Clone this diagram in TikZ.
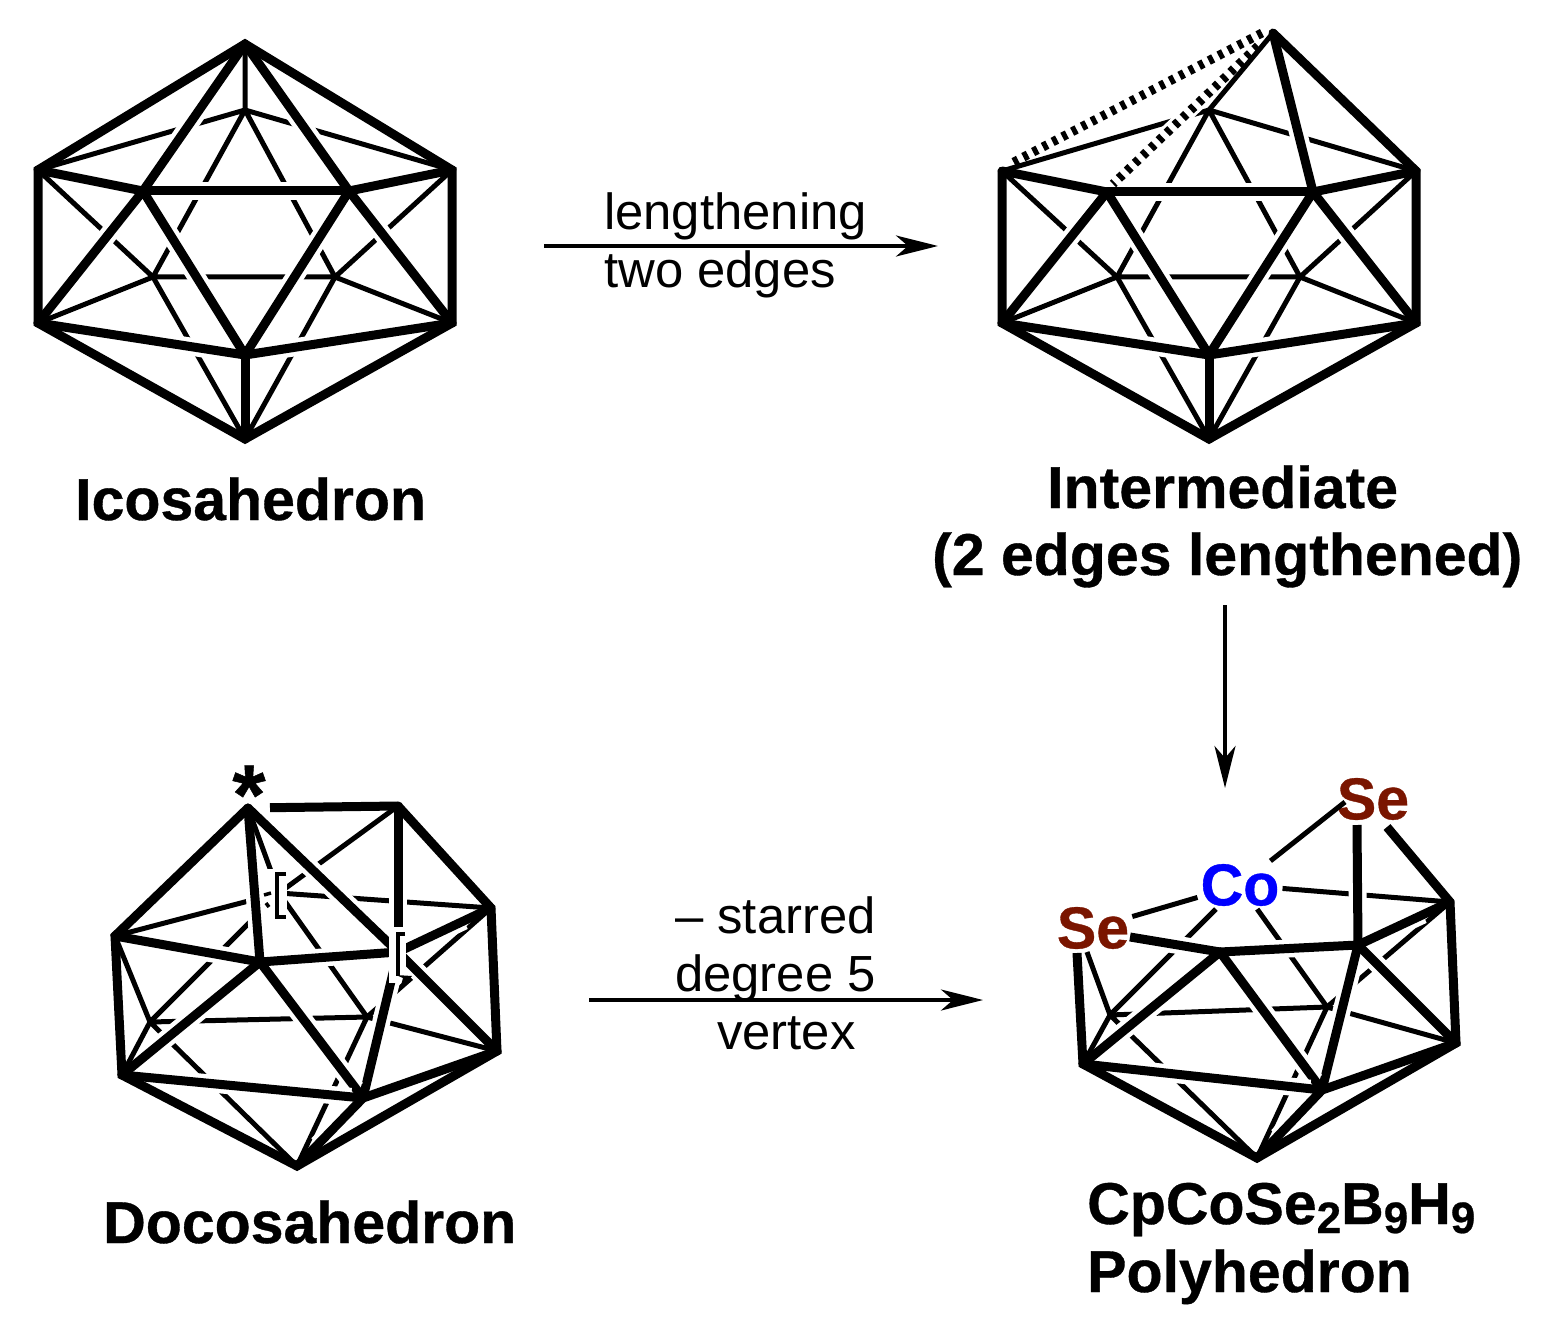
\documentclass[tikz,border=0pt]{standalone}
\usepackage{xcolor}
\usepackage{fontspec}
\setmainfont[BoldFeatures={FakeBold=0.6}]{Liberation Sans}
\usetikzlibrary{arrows.meta,positioning,calc}
\definecolor{seleniumred}{HTML}{7A1500}
\definecolor{cobaltblue}{HTML}{0000FF}
\newcommand{\lab}{\fontsize{59}{59}\selectfont\bfseries}
\newcommand{\sub}[1]{\raisebox{-9pt}{\fontsize{44}{44}\selectfont #1}}
\tikzset{
  outline/.style={line width=9pt,line join=miter,miter limit=10},
  front/.style n args={2}{line width=9pt,line cap=round,
    preaction={draw=white,line width=18pt,line cap=butt,shorten <=#1,shorten >=#2}},
  front/.default={30pt}{30pt},
  back/.style={line width=5pt},
  hashed/.style={line width=9pt,dash pattern=on 5pt off 6pt},
  react/.style={line width=3.6pt,-{Stealth[length=42pt,width=21pt,inset=12pt]}},
  title/.style={anchor=base west,inner sep=0pt,font=\lab},
  note/.style={anchor=base west,inner sep=0pt,font=\fontsize{50.8}{50.8}\selectfont},
  atom/.style={inner sep=3pt,font=\lab}
}
\begin{document}
\begin{tikzpicture}[x=1pt,y=-1pt]
\useasboundingbox (0,0) rectangle (1550,1324);

% Icosahedron
\coordinate (IT) at (245,44);
\coordinate (ILU) at (38,170);
\coordinate (IRU) at (452,170);
\coordinate (ILL) at (38,323);
\coordinate (IRL) at (452,323);
\coordinate (IB) at (245,439);
\coordinate (IFL) at (143,191);
\coordinate (IFR) at (349,191);
\coordinate (IFB) at (245,355);
\coordinate (IBT) at (245,110);
\coordinate (IBL) at (153,277);
\coordinate (IBR) at (335,277);
\draw[back] (IT) -- (IBT) (IBT) -- (ILU) (IBT) -- (IRU) (IBT) -- (IBL) (IBT) -- (IBR) (IBL) -- (IBR);
\draw[back] (IBL) -- (ILU) (IBR) -- (IRU) (IBL) -- (ILL) (IBR) -- (IRL) (IBL) -- (IB) (IBR) -- (IB);
\draw[front] (IT) -- (IFL);
\draw[front] (IT) -- (IFR);
\draw[front] (ILU) -- (IFL);
\draw[front] (IRU) -- (IFR);
\draw[front] (IFL) -- (IFR);
\draw[front] (IFL) -- (ILL);
\draw[front] (IFR) -- (IRL);
\draw[front] (IFL) -- (IFB);
\draw[front] (IFR) -- (IFB);
\draw[front] (ILL) -- (IFB);
\draw[front] (IRL) -- (IFB);
\draw[front] (IFB) -- (IB);
\draw[outline] (IT) -- (IRU) -- (IRL) -- (IB) -- (ILL) -- (ILU) -- cycle;
\node[title] (icosa) at (75,520) {Icosahedron};

% Intermediate
\coordinate (MT) at (1273,33);
\coordinate (MLU) at (1002,171);
\coordinate (MRU) at (1416,171);
\coordinate (MLL) at (1002,323);
\coordinate (MRL) at (1416,323);
\coordinate (MB) at (1209,439);
\coordinate (MFL) at (1107,192);
\coordinate (MFR) at (1313,192);
\coordinate (MFB) at (1209,355);
\coordinate (MBT) at (1209,110);
\coordinate (MBL) at (1117,277);
\coordinate (MBR) at (1300,277);
\coordinate (MHa) at (1262,33);
\coordinate (MHb) at (1012,163);
\coordinate (MHc) at (1258,46);
\coordinate (MHd) at (1113,184);
\draw[back] (MBT) -- (MLU) (MBT) -- (MRU) (MBT) -- (MBL) (MBT) -- (MBR) (MBL) -- (MBR);
\draw[back] (MBL) -- (MLU) (MBR) -- (MRU) (MBL) -- (MLL) (MBR) -- (MRL) (MBL) -- (MB) (MBR) -- (MB);
\draw[white,line width=15pt,shorten <=70pt,shorten >=50pt] (MHc) -- (MHd);
\draw[back] (MT) -- (MBT);
\draw[hashed] (MHc) -- (MHd);
\draw[hashed] (MHa) -- (MHb);
\draw[front] (MT) -- (MFR);
\draw[front] (MLU) -- (MFL);
\draw[front] (MRU) -- (MFR);
\draw[front] (MFL) -- (MFR);
\draw[front] (MFL) -- (MLL);
\draw[front] (MFR) -- (MRL);
\draw[front] (MFL) -- (MFB);
\draw[front] (MFR) -- (MFB);
\draw[front] (MLL) -- (MFB);
\draw[front] (MRL) -- (MFB);
\draw[front] (MFB) -- (MB);
\draw[outline] (MT) -- (MRU) -- (MRL) -- (MB) -- (MLL) -- (MLU);
\node[title] (inter) at (1047,508) {Intermediate};
\node[title] (interb) at (932,575) {(2 edges lengthened)};

% Docosahedron
\coordinate (DS) at (248,808);
\coordinate (DA) at (398,806);
\coordinate (DRU) at (491,908);
\coordinate (DRL) at (497,1051);
\coordinate (DB) at (297,1166);
\coordinate (DLL) at (122,1075);
\coordinate (DLU) at (115,936);
\coordinate (DFL) at (260,962);
\coordinate (DFB) at (363,1098);
\coordinate (DFR) at (398,952);
\coordinate (DBT) at (279,893);
\coordinate (DBL) at (150,1022);
\coordinate (DBR) at (367,1017);
\draw[back] (DS) -- (DBT) (DBT) -- (DA) (DBT) -- (DRU) (DBT) -- (DLU) (DBT) -- (DBL) (DBT) -- (DBR);
\draw[back] (DBL) -- (DBR) (DBR) -- (DRL) (DBR) -- (DRU) (DBR) -- (DB) (DBL) -- (DLL) (DBL) -- (DLU) (DBL) -- (DB);
\draw[front={75pt}{30pt}] (DS) -- (DFL);
\draw[front] (DS) -- (DFR);
\draw[front,line cap=butt,shorten <=22pt] (DS) -- (DA);
\draw[front] (DA) -- (DFR);
\draw[front] (DLU) -- (DFL);
\draw[front] (DFL) -- (DFR);
\draw[front] (DFR) -- (DRU);
\draw[front={12pt}{30pt}] (DFR) -- (DRL);
\draw[front={12pt}{30pt}] (DFR) -- (DFB);
\draw[front] (DFL) -- (DLL);
\draw[front={30pt}{12pt}] (DFL) -- (DFB);
\draw[front={30pt}{12pt}] (DLL) -- (DFB);
\draw[front] (DFB) -- (DRL);
\draw[front] (DFB) -- (DB);
\draw[outline] (DA) -- (DRU) -- (DRL) -- (DB) -- (DLL) -- (DLU) -- (DS);
\fill[white] (262,869) rectangle (287,919);
\fill[white] (389,927) rectangle (406,983);
\draw[line width=3.5pt] (286,874) -- (277,874) -- (277,917) -- (286,917);
\draw[line width=3.5pt] (264,895) -- (271,893) (266,903) -- (269,907);
\draw[line width=3.5pt] (405,934) -- (398,934) -- (398,976);
\fill (396,975) -- (412,976) -- (400,989) -- (403,978) -- cycle;
\node[inner sep=0pt,anchor=base,font=\fontsize{85}{85}\selectfont\bfseries] (star) at (249,824) {*};
\node[title] (docosa) at (103,1243) {Docosahedron};

% CpCoSe2B9H9 polyhedron
\node[atom,text=seleniumred] (CSa) at (1373,799) {Se};
\node[atom,text=seleniumred] (CSb) at (1093,928) {Se};
\node[atom,text=cobaltblue] (CCo) at (1240,885) {Co};
\coordinate (CSaa) at (1357,825);
\coordinate (CSab) at (1387,827);
\coordinate (CSac) at (1345,802);
\coordinate (CSba) at (1077,953);
\coordinate (CSbb) at (1130,937);
\coordinate (CSbc) at (1087,952);
\coordinate (CRU) at (1450,902);
\coordinate (CRL) at (1456,1043);
\coordinate (CB) at (1257,1158);
\coordinate (CLL) at (1083,1064);
\coordinate (CFL) at (1220,952);
\coordinate (CFB) at (1322,1090);
\coordinate (CFR) at (1358,945);
\coordinate (CBL) at (1110,1015);
\coordinate (CBR) at (1327,1007);
\draw[back] (CCo) -- (CSac) (CCo) -- (CSb) (CCo) -- (CRU) (CCo) -- (CBL) (CCo) -- (CBR);
\draw[back] (CBL) -- (CBR) (CBR) -- (CRL) (CBR) -- (CRU) (CBR) -- (CB) (CBL) -- (CLL) (CBL) -- (CSbc) (CBL) -- (CB);
\draw[front,line cap=butt] (CSaa) -- (CFR);
\draw[front={12pt}{30pt},line cap=butt] (CSbb) -- (CFL);
\draw[front] (CFL) -- (CFR);
\draw[front] (CFR) -- (CRU);
\draw[front={12pt}{30pt}] (CFR) -- (CRL);
\draw[front={12pt}{30pt}] (CFR) -- (CFB);
\draw[front] (CFL) -- (CLL);
\draw[front={30pt}{12pt}] (CFL) -- (CFB);
\draw[front={30pt}{12pt}] (CLL) -- (CFB);
\draw[front] (CFB) -- (CRL);
\draw[front] (CFB) -- (CB);
\draw[outline] (CSab) -- (CRU) -- (CRL) -- (CB) -- (CLL) -- (CSba);
\node[title] (cpco) at (1087,1224) {CpCoSe\sub{2}B\sub{9}H\sub{9}};
\node[title] (polyh) at (1087,1292) {Polyhedron};

% Reactions
\coordinate (ArrAs) at (544,246);
\coordinate (ArrAe) at (938,246);
\coordinate (ArrBs) at (1225,605);
\coordinate (ArrBe) at (1225,788);
\coordinate (ArrCs) at (589,1000);
\coordinate (ArrCe) at (983,1000);
\draw[react] (ArrAs) -- (ArrAe);
\draw[react] (ArrBs) -- (ArrBe);
\draw[react] (ArrCs) -- (ArrCe);
\node[note] (lena) at (604,230) {lengthening};
\node[note] (lenb) at (604,288) {two edges};
\node[note] (stara) at (675,933) {– starred};
\node[note] (starb) at (675,991) {degree 5};
\node[note] (starc) at (717,1049) {vertex};
\end{tikzpicture}
\end{document}
